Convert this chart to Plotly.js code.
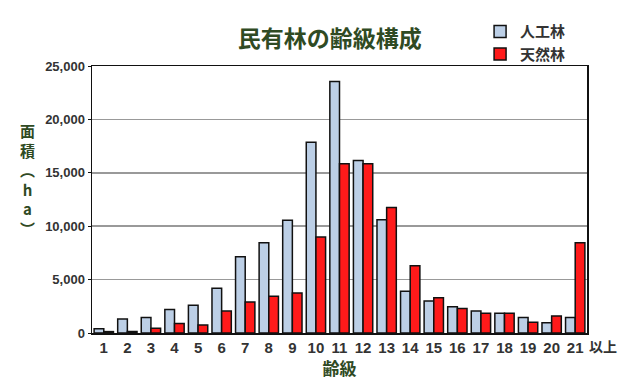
<!DOCTYPE html>
<html><head><meta charset="utf-8">
<script src="https://cdn.plot.ly/plotly-3.0.1.min.js"></script>
<style>body{margin:0;background:#fff}#c{width:620px;height:390px}</style>
</head><body><div id="c"></div>
<script>
const categories = ["1","2","3","4","5","6","7","8","9","10","11","12","13","14","15","16","17","18","19","20","21"];
const planted = [400,1300,1450,2200,2600,4200,7150,8450,10550,17850,23550,16150,10600,3900,3000,2450,2050,1850,1450,950,1450];
const natural = [130,150,450,900,750,2050,2900,3450,3750,9000,15850,15850,11750,6300,3300,2300,1850,1850,1000,1600,8450];
const yTicks = [0,5000,10000,15000,20000,25000];
const yTickText = ["0","5,000","10,000","15,000","20,000","25,000"];

const green = "#2f4a23";
const numFamily = "'Liberation Sans Narrow', 'Liberation Sans', Arial, sans-serif";
const cjk = "'Noto Sans CJK JP', sans-serif";

const traces = [
  {type:"bar", name:"人工林", x:categories, y:planted,
   marker:{color:"#bccfe6", line:{color:"#111", width:1.5}}},
  {type:"bar", name:"天然林", x:categories, y:natural,
   marker:{color:"#ff1a1a", line:{color:"#111", width:1.5}}}
];

const layout = {
  width:620, height:390,
  margin:{l:92, r:33, t:66, b:57},
  paper_bgcolor:"#fff", plot_bgcolor:"#fff",
  barmode:"group", bargap:0.18, bargroupgap:0,
  title:{text:"<b>民有林の齢級構成</b>", x:0.532, xanchor:"center", y:0.9, yanchor:"middle",
         font:{family:cjk, size:23, color:green}},
  showlegend:true,
  legend:{x:0.784, xanchor:"left", y:1.19, yanchor:"top", bgcolor:"rgba(0,0,0,0)",
          font:{family:cjk, size:15, color:"#333", weight:"bold"}, tracegroupgap:2, itemwidth:30},
  xaxis:{type:"category", showline:true, linecolor:"#111", linewidth:1.5, mirror:true,
         ticks:"", tickfont:{family:numFamily, size:15, color:"#333", weight:"bold"},
         title:{text:"<b>齢級</b>", font:{family:cjk, size:17, color:green}, standoff:6}},
  yaxis:{range:[0,25000], tickvals:yTicks, ticktext:yTickText, showline:true, linecolor:"#111",
         linewidth:1.5, mirror:true, ticks:"outside", ticklen:3, tickcolor:"#111",
         gridcolor:"#999", gridwidth:1.5, zeroline:false,
         tickfont:{family:numFamily, size:13, color:"#333", weight:"bold"}},
  annotations:[
    {xref:"paper", yref:"paper", x:1.0, xanchor:"left", y:0, yanchor:"top", yshift:-1,
     text:"<b>以上</b>", showarrow:false, font:{family:cjk, size:14, color:"#333"}},
    {xref:"paper", yref:"paper", x:-0.13, xanchor:"center", y:0.5, yanchor:"middle", yshift:20,
     text:"<b>面<br>積<br>︵<br>h<br>a<br>︶</b>", showarrow:false,
     font:{family:cjk, size:15, color:green}}
  ]
};
Plotly.newPlot("c", traces, layout, {displayModeBar:false, staticPlot:true});
</script></body></html>
